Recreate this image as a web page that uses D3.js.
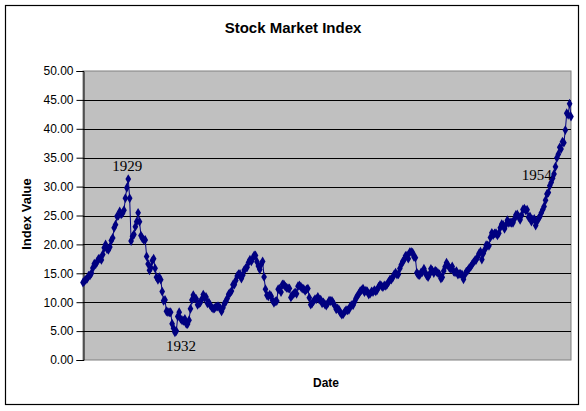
<!DOCTYPE html>
<html>
<head>
<meta charset="utf-8">
<script src="https://cdn.jsdelivr.net/npm/d3@7"></script>
<style>
  body { margin: 0; background: #fff; }
  text { font-family: Arial, "Liberation Sans", sans-serif; }
  text.note { font-family: "Times New Roman", "Liberation Serif", serif; }
</style>
</head>
<body>
<div id="chart"></div>
<script>
// monthly index values, Jan 1927 .. Oct 1955
const startYear = 1927;
const values = [
  13.40, 13.66, 13.87, 14.07, 14.57, 14.64, 15.01, 15.91, 16.66, 16.57, 16.99, 17.50, // 1927
  17.53, 17.32, 18.25, 19.40, 20.00, 19.18, 19.06, 19.55, 20.67, 21.12, 22.87, 23.41, // 1928
  24.86, 25.00, 25.70, 25.20, 25.40, 25.90, 28.00, 29.80, 31.30, 27.99, 20.58, 21.40, // 1929
  21.71, 23.07, 23.94, 25.46, 23.94, 21.52, 21.06, 20.79, 20.78, 17.92, 16.62, 15.51, // 1930
  15.98, 17.20, 17.53, 15.86, 14.33, 13.87, 14.33, 13.90, 11.83, 10.25, 10.39, 8.44,  // 1931
  8.30, 8.23, 8.26, 6.28, 5.51, 4.77, 5.01, 7.53, 8.26, 7.12, 6.87, 6.78,             // 1932
  7.09, 6.25, 6.23, 6.89, 8.87, 10.39, 11.23, 10.67, 10.58, 9.55, 9.78, 9.97,         // 1933
  10.54, 11.32, 10.74, 10.92, 9.81, 9.94, 9.47, 9.10, 8.88, 8.95, 9.20, 9.26,         // 1934
  9.26, 8.98, 8.41, 9.04, 9.75, 10.12, 10.65, 11.37, 11.61, 11.92, 13.04, 13.04,      // 1935
  13.76, 14.55, 14.86, 14.88, 14.09, 14.69, 15.56, 15.87, 16.05, 16.89, 17.36, 17.06, // 1936
  17.59, 18.11, 18.09, 17.01, 16.25, 15.64, 16.57, 17.04, 14.37, 12.26, 11.20, 11.02, // 1937
  11.31, 11.04, 10.31, 9.89, 10.15, 10.21, 12.24, 12.31, 11.75, 13.06, 13.07, 12.69,  // 1938
  12.50, 12.40, 12.39, 10.83, 11.23, 11.43, 11.71, 11.46, 12.77, 12.90, 12.67, 12.37, // 1939
  12.30, 11.97, 12.21, 12.35, 10.79, 9.58, 9.82, 10.19, 10.54, 10.53, 10.90, 10.45,   // 1940
  10.45, 9.82, 9.97, 9.64, 9.43, 9.76, 10.26, 10.21, 10.24, 9.83, 9.37, 8.76,         // 1941
  8.93, 8.65, 8.18, 7.84, 7.93, 8.33, 8.64, 8.59, 8.68, 9.32, 9.47, 9.52,             // 1942
  10.09, 10.69, 11.07, 11.44, 11.89, 12.10, 12.35, 11.74, 11.99, 11.88, 11.33, 11.48, // 1943
  11.85, 11.77, 12.10, 11.89, 12.10, 12.67, 13.00, 12.81, 12.60, 12.91, 12.82, 13.10, // 1944
  13.49, 13.94, 13.93, 14.28, 14.82, 15.09, 14.78, 14.83, 15.84, 16.50, 17.04, 17.33, // 1945
  18.02, 18.07, 17.53, 18.66, 18.70, 18.58, 17.83, 17.70, 15.09, 14.75, 14.69, 15.13, // 1946
  15.21, 15.80, 15.16, 14.60, 14.34, 14.84, 15.77, 15.46, 15.06, 15.45, 15.27, 15.03, // 1947
  14.83, 14.10, 14.30, 15.40, 16.15, 16.82, 16.42, 15.94, 15.76, 16.19, 15.29, 15.19, // 1948
  15.36, 14.77, 14.91, 14.89, 14.78, 13.97, 14.76, 15.29, 15.49, 15.89, 16.11, 16.54, // 1949
  16.88, 17.21, 17.35, 17.84, 18.44, 18.74, 17.38, 18.43, 19.08, 19.87, 19.83, 19.75, // 1950
  21.21, 22.00, 21.63, 21.92, 21.93, 21.55, 21.93, 22.89, 23.48, 23.36, 22.71, 23.41, // 1951
  24.19, 23.75, 23.81, 23.74, 23.73, 24.38, 25.08, 25.18, 24.78, 24.26, 25.03, 26.04, // 1952
  26.18, 25.86, 25.99, 24.71, 24.84, 23.95, 24.29, 24.39, 23.27, 23.97, 24.50, 24.83, // 1953
  25.46, 26.02, 26.57, 27.63, 28.73, 28.96, 30.13, 30.73, 31.45, 32.18, 33.44, 34.97, // 1954
  35.60, 36.79, 36.50, 37.76, 37.60, 39.78, 42.69, 42.43, 44.34, 42.11                // 1955
];
const dates = values.map((v, i) => new Date(startYear + Math.floor(i / 12), i % 12, 1));
const yTicks = [0, 5, 10, 15, 20, 25, 30, 35, 40, 45, 50];
const notes = [
  { label: "1929", date: new Date(1929, 8, 1), value: 31.3, dx: -16, dy: -8 },
  { label: "1932", date: new Date(1932, 5, 1), value: 4.77, dx: -9, dy: 19 },
  { label: "1954", date: new Date(1954, 8, 1), value: 31.45, dx: -31, dy: 2 }
];

const width = 586, height = 411;
const margin = { top: 71, right: 15, bottom: 51, left: 83 };

const svg = d3.select("#chart")
  .append("svg")
  .attr("width", width)
  .attr("height", height);

// outer chart border
svg.append("rect")
  .attr("x", 5.5).attr("y", 5.5)
  .attr("width", 573).attr("height", 399)
  .attr("fill", "#fff")
  .attr("stroke", "#000")
  .attr("stroke-width", 1.2);

const x = d3.scaleTime()
  .domain(d3.extent(dates))
  .range([margin.left, width - margin.right]);

const y = d3.scaleLinear()
  .domain([0, 50])
  .range([height - margin.bottom, margin.top]);

// plot area
svg.append("rect")
  .attr("x", margin.left).attr("y", margin.top)
  .attr("width", width - margin.left - margin.right)
  .attr("height", height - margin.top - margin.bottom)
  .attr("fill", "#c0c0c0")
  .attr("stroke", "#808080");

// gridlines
svg.append("g")
  .selectAll("line")
  .data(yTicks.filter(d => d > 0 && d < 50))
  .join("line")
  .attr("x1", margin.left).attr("x2", width - margin.right)
  .attr("y1", d => Math.round(y(d)) + 0.5).attr("y2", d => Math.round(y(d)) + 0.5)
  .attr("stroke", "#000");

// y axis
svg.append("g")
  .attr("transform", `translate(${margin.left + 0.5},0)`)
  .call(d3.axisLeft(y).tickValues(yTicks).tickFormat(d3.format(".2f")).tickSize(7).tickPadding(3))
  .call(g => g.selectAll("text").attr("font-size", 12).attr("fill", "#000"))
  .call(g => g.select(".domain").attr("stroke", "#000"));

// line + diamond markers
const line = d3.line()
  .x((d, i) => x(dates[i]))
  .y(d => y(d));

svg.append("path")
  .datum(values)
  .attr("fill", "none")
  .attr("stroke", "#000080")
  .attr("stroke-width", 1)
  .attr("d", line);

const diamond = d3.symbol().type(d3.symbolDiamond).size(28);
svg.append("g")
  .selectAll("path")
  .data(values)
  .join("path")
  .attr("transform", (d, i) => `translate(${x(dates[i])},${y(d)})`)
  .attr("d", diamond)
  .attr("fill", "#000080");

// annotations
svg.append("g")
  .selectAll("text")
  .data(notes)
  .join("text")
  .attr("class", "note")
  .attr("x", d => x(d.date) + d.dx)
  .attr("y", d => y(d.value) + d.dy)
  .attr("font-size", 15)
  .attr("fill", "#000")
  .text(d => d.label);

// titles
svg.append("text")
  .attr("x", 293).attr("y", 33)
  .attr("text-anchor", "middle")
  .attr("font-size", 15).attr("font-weight", "bold")
  .text("Stock Market Index");

svg.append("text")
  .attr("x", 326).attr("y", 387)
  .attr("text-anchor", "middle")
  .attr("font-size", 12).attr("font-weight", "bold")
  .text("Date");

svg.append("text")
  .attr("transform", "translate(31,214) rotate(-90)")
  .attr("text-anchor", "middle")
  .attr("font-size", 13).attr("font-weight", "bold")
  .text("Index Value");
</script>
</body>
</html>
